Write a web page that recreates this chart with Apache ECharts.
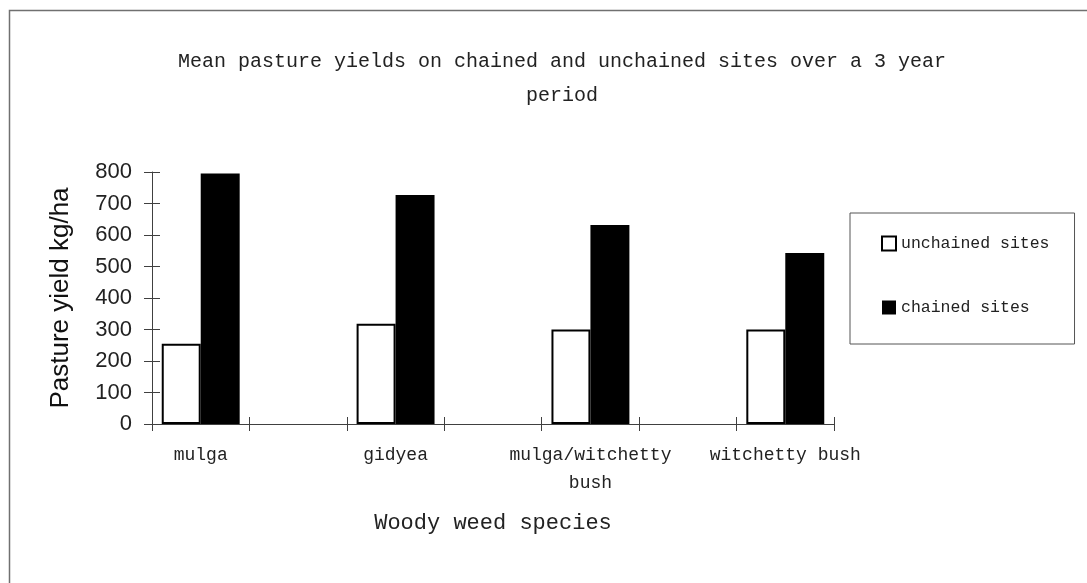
<!DOCTYPE html>
<html>
<head>
<meta charset="utf-8">
<script src="https://cdn.jsdelivr.net/npm/echarts@6/dist/echarts.min.js"></script>
<style>
html,body{margin:0;padding:0;background:#fff;}
#chart{width:1087px;height:583px;}
</style>
</head>
<body>
<div id="chart"></div>
<script>
// ---- data ----
var species = ['mulga', 'gidyea', 'mulga/witchetty\nbush', 'witchetty bush'];
var unchainedSites = [255, 318, 300, 300];
var chainedSites = [795, 727, 632, 543];
var seriesNames = ['unchained sites', 'chained sites'];
var yTicks = { min: 0, max: 800, interval: 100 };
var titleText = 'Mean pasture yields on chained and unchained sites over a 3 year\nperiod';
var xAxisTitle = 'Woody weed species';
var yAxisTitle = 'Pasture yield kg/ha';

// Build category slots: each species followed by an empty slot (as in the original chart)
var categories = [], unchainedData = [], chainedData = [];
species.forEach(function (s, i) {
  categories.push(s); unchainedData.push(unchainedSites[i]); chainedData.push(chainedSites[i]);
  if (i < species.length - 1) { categories.push(''); unchainedData.push(null); chainedData.push(null); }
});

var mono = '"Liberation Mono", monospace';
var sans = '"Liberation Sans", Arial, sans-serif';
var axisColor = '#404040';

var chart = echarts.init(document.getElementById('chart'));
chart.setOption({
  animation: false,
  backgroundColor: '#fff',
  graphic: [{
    type: 'rect', left: 7, top: 8, silent: true,
    shape: { width: 1200, height: 700 },
    style: { fill: 'none', stroke: '#707070', lineWidth: 1.5 }
  }],
  title: {
    text: titleText,
    left: 557, top: 40, textAlign: 'center',
    textStyle: { fontFamily: mono, fontSize: 20, fontWeight: 'normal', color: '#222', lineHeight: 34 }
  },
  legend: {
    orient: 'vertical', left: 850, top: 213,
    padding: [22, 25, 28, 31],
    itemGap: 47, itemWidth: 14, itemHeight: 14,
    borderColor: '#555', borderWidth: 1,
    icon: 'rect',
    textStyle: { fontFamily: mono, fontSize: 16.5, color: '#222' },
    data: seriesNames
  },
  grid: { left: 152, right: 253, top: 172, bottom: 159, containLabel: false },
  xAxis: [{
    type: 'category', data: categories, position: 'bottom',
    axisLine: { lineStyle: { color: axisColor, width: 1 } },
    axisTick: { show: true, interval: 0, length: 7, lineStyle: { color: axisColor } },
    axisLabel: { fontFamily: mono, fontSize: 18, color: '#222', margin: 17, lineHeight: 28, interval: 0 },
    name: xAxisTitle, nameLocation: 'middle', nameGap: 88,
    nameTextStyle: { fontFamily: mono, fontSize: 22, color: '#222' }
  }, {
    type: 'category', data: categories, position: 'bottom',
    axisLine: { show: false },
    axisTick: { show: true, interval: 0, inside: true, length: 7, lineStyle: { color: axisColor } },
    axisLabel: { show: false, interval: 0 }
  }],
  yAxis: [{
    type: 'value', min: yTicks.min, max: yTicks.max, interval: yTicks.interval, position: 'left',
    splitLine: { show: false },
    axisLine: { show: true, lineStyle: { color: axisColor, width: 1 } },
    axisTick: { show: true, length: 8, lineStyle: { color: axisColor } },
    axisLabel: { fontFamily: sans, fontSize: 22, color: '#222', margin: 20 },
    name: yAxisTitle, nameLocation: 'middle', nameGap: 78, nameRotate: 90,
    nameTextStyle: { fontFamily: sans, fontSize: 26, color: '#111' }
  }, {
    type: 'value', min: yTicks.min, max: yTicks.max, interval: yTicks.interval, position: 'left',
    splitLine: { show: false },
    axisLine: { show: false },
    axisTick: { show: true, inside: true, length: 8, lineStyle: { color: axisColor } },
    axisLabel: { show: false }
  }],
  series: [{
    name: seriesNames[0], type: 'bar', data: unchainedData,
    barGap: '0%', barCategoryGap: '20%',
    itemStyle: { color: '#fff', borderColor: '#000', borderWidth: 2 }
  }, {
    name: seriesNames[1], type: 'bar', data: chainedData,
    barGap: '0%', barCategoryGap: '20%',
    itemStyle: { color: '#000', borderColor: '#000', borderWidth: 0 }
  }]
});
</script>
</body>
</html>
